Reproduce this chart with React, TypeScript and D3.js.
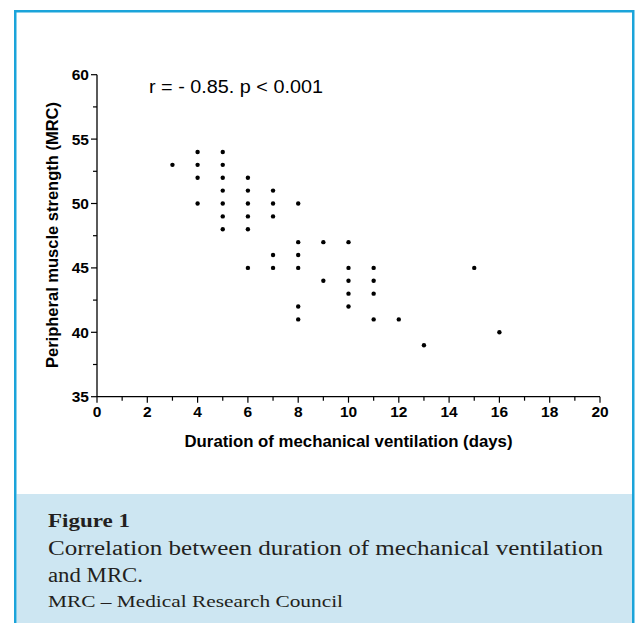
import React from "react";
import * as d3 from "d3";

// Duration of mechanical ventilation (days)
const durations = [
  3,
  4, 4, 4, 4,
  5, 5, 5, 5, 5, 5, 5,
  6, 6, 6, 6, 6, 6,
  7, 7, 7, 7, 7,
  8, 8, 8, 8, 8, 8,
  9, 9,
  10, 10, 10, 10, 10,
  11, 11, 11, 11,
  12,
  13,
  15,
  16,
];
// Peripheral muscle strength (MRC)
const strengths = [
  53,
  54, 53, 52, 50,
  54, 53, 52, 51, 50, 49, 48,
  52, 51, 50, 49, 48, 45,
  51, 50, 49, 46, 45,
  50, 47, 46, 45, 42, 41,
  47, 44,
  47, 45, 44, 43, 42,
  45, 44, 43, 41,
  41,
  39,
  45,
  40,
];

const xMajorTicks = [0, 2, 4, 6, 8, 10, 12, 14, 16, 18, 20];
const xMinorTicks = [1, 3, 5, 7, 9, 11, 13, 15, 17, 19];
const yMajorTicks = [35, 40, 45, 50, 55, 60];
const yMinorTicks = [37.5, 42.5, 47.5, 52.5, 57.5];

const xTitle = "Duration of mechanical ventilation (days)";
const yTitle = "Peripheral muscle strength (MRC)";
const statText = "r = - 0.85. p < 0.001";
const captionTitle = "Figure 1";
const captionLine1 = "Correlation between duration of mechanical ventilation";
const captionLine2 = "and MRC.";
const captionNote = "MRC \u2013 Medical Research Council";

const W = 635;
const H = 623;
const left = 97;
const right = 600;
const top = 74.7;
const bottom = 396.7;
const sans = "'Liberation Sans', Arial, sans-serif";
const serif = "'Liberation Serif', 'Times New Roman', serif";

export default function App() {
  const x = d3.scaleLinear().domain([0, 20]).range([left, right]);
  const y = d3.scaleLinear().domain([35, 60]).range([bottom, top]);

  const tickStyle: React.CSSProperties = {
    fontFamily: sans,
    fontWeight: 700,
    fontSize: "15.5px",
  };

  return (
    <svg
      width={W}
      height={H}
      style={{ position: "absolute", left: 0, top: 0, background: "#fff" }}
    >
      <rect x={0} y={0} width={W} height={H} fill="#fff" />
      <rect x={16.5} y={494} width={616} height={H - 494 + 10} fill="#cde6f2" />
      <rect
        x={15.25}
        y={11.25}
        width={618}
        height={640}
        fill="none"
        stroke="#1ba4da"
        strokeWidth={2.5}
      />

      {/* x axis */}
      <line x1={x(0)} x2={x(20)} y1={bottom} y2={bottom} stroke="#000" strokeWidth={1.3} />
      {xMajorTicks.map((t) => (
        <g key={"xm" + t} transform={`translate(${x(t)},${bottom})`}>
          <line y1={0} y2={6} stroke="#000" strokeWidth={1.2} />
          <text y={20.6} textAnchor="middle" fill="#000" style={tickStyle}>
            {t}
          </text>
        </g>
      ))}
      {xMinorTicks.map((t) => (
        <line
          key={"xn" + t}
          x1={x(t)}
          x2={x(t)}
          y1={bottom}
          y2={bottom + 4}
          stroke="#000"
          strokeWidth={1.2}
        />
      ))}

      {/* y axis */}
      <line x1={left} x2={left} y1={y(35)} y2={y(60)} stroke="#000" strokeWidth={1.3} />
      {yMajorTicks.map((t) => (
        <g key={"ym" + t} transform={`translate(${left},${y(t)})`}>
          <line x1={0} x2={-6} stroke="#000" strokeWidth={1.2} />
          <text x={-8} dy="0.36em" textAnchor="end" fill="#000" style={tickStyle}>
            {t}
          </text>
        </g>
      ))}
      {yMinorTicks.map((t) => (
        <line
          key={"yn" + t}
          x1={left}
          x2={left - 4}
          y1={y(t)}
          y2={y(t)}
          stroke="#000"
          strokeWidth={1.2}
        />
      ))}

      {durations.map((d, i) => (
        <circle key={i} cx={x(d)} cy={y(strengths[i])} r={2.2} fill="#000" />
      ))}

      <text
        x={149}
        y={93.3}
        fill="#000"
        textLength={174}
        lengthAdjust="spacingAndGlyphs"
        style={{ fontFamily: sans, fontSize: "17.5px" }}
      >
        {statText}
      </text>

      <text
        x={(left + right) / 2}
        y={446.7}
        textAnchor="middle"
        fill="#000"
        textLength={328}
        lengthAdjust="spacingAndGlyphs"
        style={{ fontFamily: sans, fontWeight: 700, fontSize: "16.5px" }}
      >
        {xTitle}
      </text>

      <text
        transform={`translate(58,${(101.7 + 368.3) / 2}) rotate(-90)`}
        textAnchor="middle"
        fill="#000"
        textLength={266}
        lengthAdjust="spacingAndGlyphs"
        style={{ fontFamily: sans, fontWeight: 700, fontSize: "16.5px" }}
      >
        {yTitle}
      </text>

      <text
        x={48}
        y={527.3}
        fill="#231f20"
        textLength={82}
        lengthAdjust="spacingAndGlyphs"
        style={{ fontFamily: serif, fontWeight: 700, fontSize: "19px" }}
      >
        {captionTitle}
      </text>
      <text
        x={48}
        y={555}
        fill="#231f20"
        textLength={555}
        lengthAdjust="spacingAndGlyphs"
        style={{ fontFamily: serif, fontSize: "20px" }}
      >
        {captionLine1}
      </text>
      <text
        x={48}
        y={581.7}
        fill="#231f20"
        textLength={95}
        lengthAdjust="spacingAndGlyphs"
        style={{ fontFamily: serif, fontSize: "20px" }}
      >
        {captionLine2}
      </text>
      <text
        x={48}
        y={606.7}
        fill="#231f20"
        textLength={295}
        lengthAdjust="spacingAndGlyphs"
        style={{ fontFamily: serif, fontSize: "16px" }}
      >
        {captionNote}
      </text>
    </svg>
  );
}
